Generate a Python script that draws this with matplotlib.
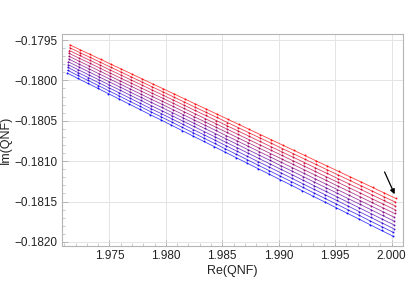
import numpy as np
import matplotlib
matplotlib.use("Agg")
import matplotlib.pyplot as plt
from matplotlib.ticker import MultipleLocator, FuncFormatter

plt.rcParams['font.family'] = ['Liberation Sans', 'DejaVu Sans']

# Re(QNF) of the markers on the top (red) curve
re_grid = [1.97150, 1.97240, 1.97331, 1.97422, 1.97514, 1.97606, 1.97698, 1.97791,
           1.97884, 1.97978, 1.98072, 1.98166, 1.98261, 1.98356, 1.98452, 1.98548,
           1.98644, 1.98741, 1.98838, 1.98936, 1.99034, 1.99132, 1.99231, 1.99330,
           1.99430, 1.99530, 1.99630, 1.99731, 1.99832, 1.99933, 2.00035]
# small Re shift of each curve (red -> blue)
re_shift = [0.0, -0.000022, -0.000044, -0.000066, -0.000088, -0.000110,
            -0.000132, -0.000154, -0.000176, -0.000198, -0.000220]

# Im(QNF): one row per marker, one column per curve (red -> blue)
im_table = [
    [-0.179560, -0.179595, -0.179630, -0.179665, -0.179700, -0.179735, -0.179770, -0.179805, -0.179840, -0.179875, -0.179910],
    [-0.179620, -0.179655, -0.179691, -0.179726, -0.179762, -0.179797, -0.179832, -0.179868, -0.179903, -0.179939, -0.179974],
    [-0.179679, -0.179715, -0.179751, -0.179786, -0.179822, -0.179858, -0.179894, -0.179930, -0.179965, -0.180001, -0.180037],
    [-0.179739, -0.179775, -0.179811, -0.179847, -0.179883, -0.179920, -0.179956, -0.179992, -0.180028, -0.180064, -0.180100],
    [-0.179800, -0.179837, -0.179873, -0.179910, -0.179946, -0.179983, -0.180019, -0.180056, -0.180092, -0.180129, -0.180165],
    [-0.179860, -0.179897, -0.179934, -0.179971, -0.180008, -0.180045, -0.180081, -0.180118, -0.180155, -0.180192, -0.180229],
    [-0.179921, -0.179958, -0.179996, -0.180033, -0.180070, -0.180108, -0.180145, -0.180182, -0.180219, -0.180257, -0.180294],
    [-0.179982, -0.180020, -0.180057, -0.180095, -0.180133, -0.180171, -0.180208, -0.180246, -0.180284, -0.180321, -0.180359],
    [-0.180044, -0.180082, -0.180120, -0.180158, -0.180196, -0.180235, -0.180273, -0.180311, -0.180349, -0.180387, -0.180425],
    [-0.180105, -0.180143, -0.180182, -0.180220, -0.180259, -0.180297, -0.180335, -0.180374, -0.180412, -0.180451, -0.180489],
    [-0.180167, -0.180206, -0.180245, -0.180283, -0.180322, -0.180361, -0.180400, -0.180439, -0.180477, -0.180516, -0.180555],
    [-0.180229, -0.180268, -0.180307, -0.180347, -0.180386, -0.180425, -0.180464, -0.180503, -0.180543, -0.180582, -0.180621],
    [-0.180292, -0.180332, -0.180371, -0.180411, -0.180450, -0.180490, -0.180530, -0.180569, -0.180609, -0.180648, -0.180688],
    [-0.180354, -0.180394, -0.180434, -0.180474, -0.180514, -0.180554, -0.180594, -0.180634, -0.180674, -0.180714, -0.180754],
    [-0.180417, -0.180457, -0.180498, -0.180538, -0.180579, -0.180619, -0.180659, -0.180700, -0.180740, -0.180781, -0.180821],
    [-0.180481, -0.180522, -0.180563, -0.180603, -0.180644, -0.180685, -0.180726, -0.180767, -0.180807, -0.180848, -0.180889],
    [-0.180544, -0.180585, -0.180626, -0.180668, -0.180709, -0.180750, -0.180791, -0.180832, -0.180874, -0.180915, -0.180956],
    [-0.180608, -0.180650, -0.180691, -0.180733, -0.180774, -0.180816, -0.180858, -0.180899, -0.180941, -0.180982, -0.181024],
    [-0.180672, -0.180714, -0.180756, -0.180798, -0.180840, -0.180882, -0.180924, -0.180966, -0.181008, -0.181050, -0.181092],
    [-0.180736, -0.180778, -0.180821, -0.180863, -0.180906, -0.180948, -0.180990, -0.181033, -0.181075, -0.181118, -0.181160],
    [-0.180801, -0.180844, -0.180887, -0.180929, -0.180972, -0.181015, -0.181058, -0.181101, -0.181143, -0.181186, -0.181229],
    [-0.180865, -0.180908, -0.180951, -0.180995, -0.181038, -0.181081, -0.181124, -0.181167, -0.181211, -0.181254, -0.181297],
    [-0.180930, -0.180974, -0.181017, -0.181061, -0.181105, -0.181149, -0.181192, -0.181236, -0.181280, -0.181323, -0.181367],
    [-0.180996, -0.181040, -0.181084, -0.181128, -0.181172, -0.181217, -0.181261, -0.181305, -0.181349, -0.181393, -0.181437],
    [-0.181061, -0.181106, -0.181150, -0.181195, -0.181239, -0.181284, -0.181328, -0.181373, -0.181417, -0.181462, -0.181506],
    [-0.181127, -0.181172, -0.181217, -0.181262, -0.181307, -0.181352, -0.181396, -0.181441, -0.181486, -0.181531, -0.181576],
    [-0.181193, -0.181238, -0.181284, -0.181329, -0.181374, -0.181420, -0.181465, -0.181510, -0.181555, -0.181601, -0.181646],
    [-0.181259, -0.181305, -0.181350, -0.181396, -0.181442, -0.181488, -0.181533, -0.181579, -0.181625, -0.181670, -0.181716],
    [-0.181326, -0.181372, -0.181418, -0.181465, -0.181511, -0.181557, -0.181603, -0.181649, -0.181696, -0.181742, -0.181788],
    [-0.181393, -0.181440, -0.181486, -0.181533, -0.181579, -0.181626, -0.181673, -0.181719, -0.181766, -0.181812, -0.181859],
    [-0.181460, -0.181507, -0.181554, -0.181601, -0.181648, -0.181695, -0.181742, -0.181789, -0.181836, -0.181883, -0.181930],
]

# arrow (tail, head)
arrow_tail = (1.99938, -0.181134)
arrow_head = (2.00027, -0.181410)

re_grid = np.array(re_grid)
im_table = np.array(im_table)
ncurves = im_table.shape[1]

fig = plt.figure(figsize=(4.09, 3.07), dpi=100)
ax = fig.add_axes([0.151, 0.199, 0.834, 0.689])

for k in range(ncurves):
    t = k / (ncurves - 1)
    col = (1 - t, 0, t)
    ax.plot(re_grid + re_shift[k], im_table[:, k], '-', color=col, lw=0.6,
            alpha=0.75)
    ax.plot(re_grid + re_shift[k], im_table[:, k], 'o', color=col, ms=1.4,
            mew=0, alpha=0.9)

ax.annotate('', xy=arrow_head, xytext=arrow_tail,
            arrowprops=dict(arrowstyle='-|>', color='black', lw=0.9,
                            mutation_scale=7, shrinkA=0, shrinkB=0))

ax.set_xlim(1.97078, 2.0010)
ax.set_ylim(-0.18205, -0.17943)

ax.xaxis.set_major_locator(MultipleLocator(0.005))
ax.xaxis.set_minor_locator(MultipleLocator(0.001))
ax.yaxis.set_major_locator(MultipleLocator(0.0005))
ax.yaxis.set_minor_locator(MultipleLocator(0.0001))
ax.xaxis.set_major_formatter(FuncFormatter(lambda v, p: ('%.3f' % v).replace('-', '\u2212')))
ax.yaxis.set_major_formatter(FuncFormatter(lambda v, p: ('%.4f' % v).replace('-', '\u2212')))

ax.grid(True, which='major', color='#e4e4e4', lw=0.7)
ax.set_axisbelow(True)
for s in ax.spines.values():
    s.set_color('#b5b5b5')
    s.set_linewidth(0.8)
ax.tick_params(which='both', direction='in', color='#b5b5b5', labelsize=8.5,
               labelcolor='#222222', top=False, right=False)
ax.tick_params(which='major', length=4, width=0.7, pad=3)
ax.tick_params(which='minor', length=2, width=0.5)

ax.set_xlabel('Re(QNF)', fontsize=9, color='#222222', labelpad=2)
ax.set_ylabel('Im(QNF)', fontsize=9, color='#222222', labelpad=2)

fig.savefig('out.png', dpi=100)
